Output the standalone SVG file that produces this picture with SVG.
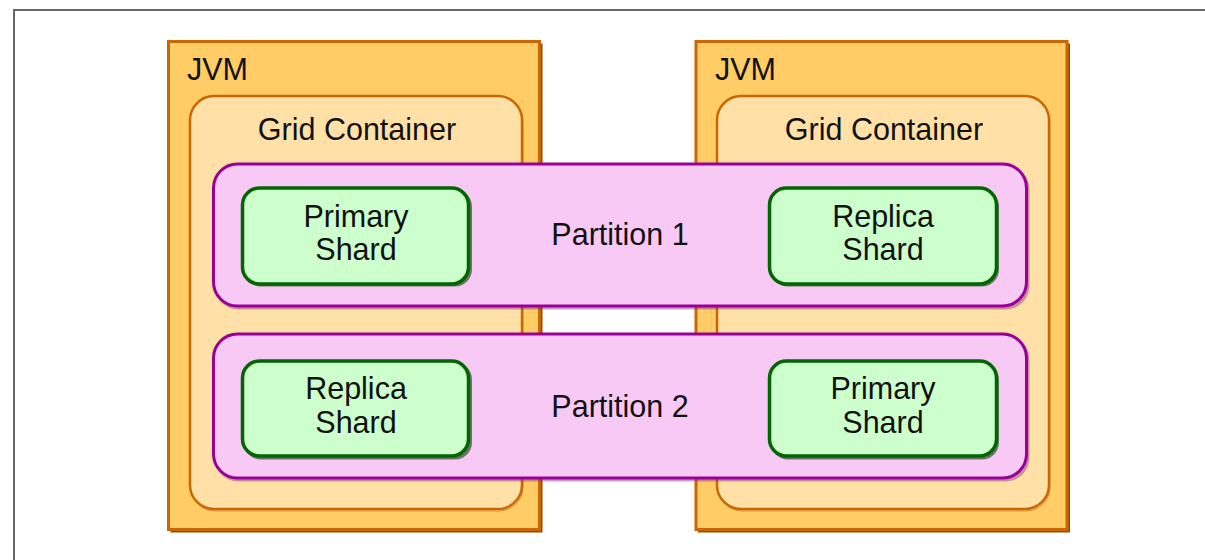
<svg xmlns="http://www.w3.org/2000/svg" width="1205" height="560" viewBox="0 0 1205 560">
  <style>
    .frame { fill: #ffffff; stroke: #666666; stroke-width: 2; }
    .jvm { fill: #FFCC66; stroke: #CC6600; stroke-width: 3; }
    .jvm-shadow { fill: #8E4F00; }
    .grid { fill: #FFE1A8; stroke: #CC6600; stroke-width: 2.5; }
    .grid-shadow { fill: none; stroke: #A85A10; stroke-width: 1; opacity: 0.5; }
    .part { fill: #F9C9F6; stroke: #990099; stroke-width: 3; }
    .part-shadow { fill: #8A2A8A; opacity: 0.45; }
    .shard { fill: #CCFFCC; stroke: #006600; stroke-width: 3.5; }
    .shard-shadow { fill: #0B3A0B; opacity: 0.6; }
    text { font-family: "Liberation Sans", Arial, sans-serif; font-size: 30.5px; fill: #111111; }
    .c { text-anchor: middle; }
  </style>

  <!-- page frame -->
  <rect class="frame" x="14" y="10" width="1200" height="560"/>

  <!-- left JVM -->
  <g id="jvm1">
    <rect class="jvm-shadow" x="170.5" y="43.5" width="372" height="489"/>
    <rect class="jvm" x="168.5" y="41.5" width="371" height="488"/>
    <text x="187" y="80">JVM</text>
  </g>
  <g id="grid1">
    <rect class="grid-shadow" x="191" y="97" width="332" height="414" rx="24"/>
    <rect class="grid" x="190" y="96" width="332" height="413" rx="24"/>
    <text class="c" x="357" y="140">Grid Container</text>
  </g>

  <!-- right JVM -->
  <g id="jvm2">
    <rect class="jvm-shadow" x="698" y="43.5" width="372" height="489"/>
    <rect class="jvm" x="696" y="41.5" width="371" height="488"/>
    <text x="715" y="80">JVM</text>
  </g>
  <g id="grid2">
    <rect class="grid-shadow" x="718" y="97" width="332" height="414" rx="24"/>
    <rect class="grid" x="717" y="96" width="332" height="413" rx="24"/>
    <text class="c" x="884" y="140">Grid Container</text>
  </g>

  <!-- partitions spanning both containers -->
  <g id="partition1">
    <rect class="part-shadow" x="214.5" y="165.5" width="815" height="144" rx="24"/>
    <rect class="part" x="213.5" y="164" width="813" height="142" rx="24"/>
    <text class="c" x="620" y="245">Partition 1</text>
  </g>
  <g id="partition2">
    <rect class="part-shadow" x="214.5" y="335.5" width="815" height="146" rx="24"/>
    <rect class="part" x="213.5" y="334" width="813" height="144" rx="24"/>
    <text class="c" x="620" y="417">Partition 2</text>
  </g>

  <!-- shards -->
  <g id="shard-p1-primary">
    <rect class="shard-shadow" x="244" y="189.5" width="228" height="97" rx="17"/>
    <rect class="shard" x="242.5" y="188" width="226" height="96" rx="17"/>
    <text class="c" x="356" y="227">Primary</text>
    <text class="c" x="356" y="260">Shard</text>
  </g>
  <g id="shard-p1-replica">
    <rect class="shard-shadow" x="771" y="189.5" width="228" height="97" rx="17"/>
    <rect class="shard" x="769.5" y="188" width="227" height="96" rx="17"/>
    <text class="c" x="883" y="227">Replica</text>
    <text class="c" x="883" y="260">Shard</text>
  </g>
  <g id="shard-p2-replica">
    <rect class="shard-shadow" x="244" y="362.5" width="228" height="97" rx="17"/>
    <rect class="shard" x="242.5" y="361" width="226" height="95" rx="17"/>
    <text class="c" x="356" y="399">Replica</text>
    <text class="c" x="356" y="433">Shard</text>
  </g>
  <g id="shard-p2-primary">
    <rect class="shard-shadow" x="771" y="362.5" width="228" height="97" rx="17"/>
    <rect class="shard" x="769.5" y="361" width="227" height="95" rx="17"/>
    <text class="c" x="883" y="399">Primary</text>
    <text class="c" x="883" y="433">Shard</text>
  </g>

  <!-- no connectors in this layout -->
  <g id="connectors"/>
</svg>
